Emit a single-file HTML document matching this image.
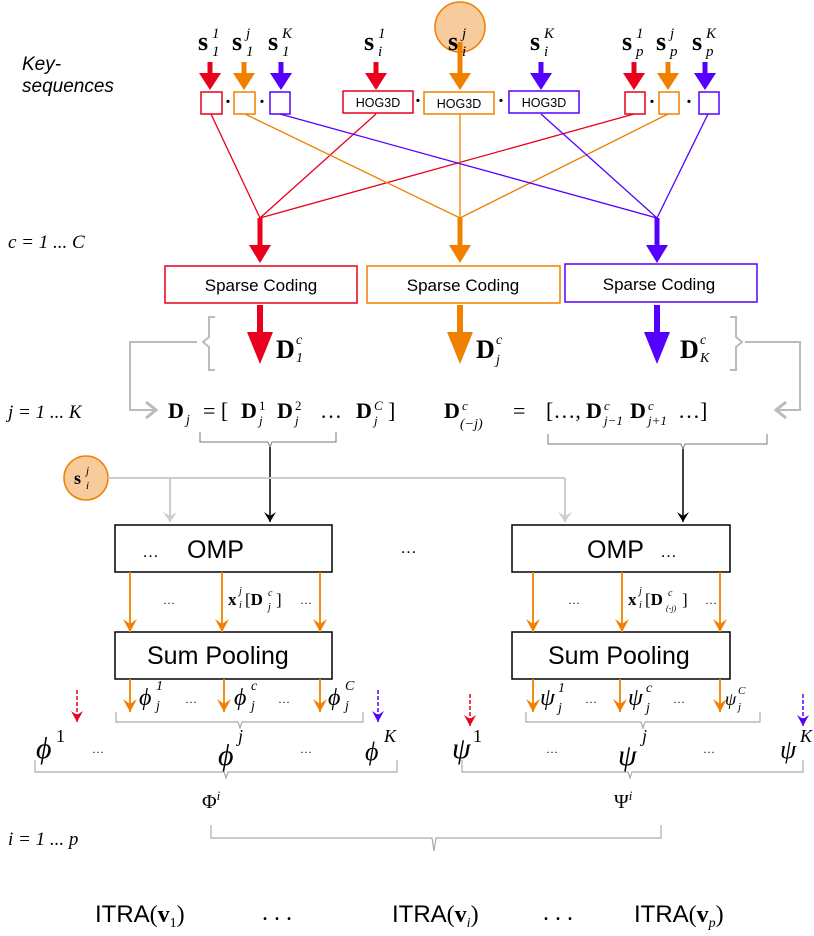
<!DOCTYPE html>
<html><head><meta charset="utf-8"><style>
body{margin:0;background:#fff}
svg{display:block}
text{font-family:"Liberation Serif",serif}
.s{font-family:"Liberation Sans",sans-serif}
</style></head><body>
<svg width="814" height="936" viewBox="0 0 814 936" xmlns="http://www.w3.org/2000/svg">
<defs>
<marker id="ho" markerWidth="14" markerHeight="14" refX="13" refY="7" orient="auto" markerUnits="userSpaceOnUse"><path d="M0,0 L13,7 L0,14 L5,7Z" fill="#f08000"/></marker>
<marker id="hk" markerWidth="12" markerHeight="12" refX="11" refY="6" orient="auto" markerUnits="userSpaceOnUse"><path d="M1,0 L11,6 L1,12 L5,6Z" fill="#000"/></marker>
<marker id="hg" markerWidth="12" markerHeight="14" refX="11" refY="7" orient="auto" markerUnits="userSpaceOnUse"><path d="M1,0 L11,7 L1,14 L5,7Z" fill="#ccc"/></marker>
<marker id="hr" markerWidth="12" markerHeight="12" refX="11" refY="6" orient="auto" markerUnits="userSpaceOnUse"><path d="M0,0 L11,6 L0,12 L4,6Z" fill="#e8001c"/></marker>
<marker id="hb" markerWidth="12" markerHeight="12" refX="11" refY="6" orient="auto" markerUnits="userSpaceOnUse"><path d="M0,0 L11,6 L0,12 L4,6Z" fill="#5500ff"/></marker>
</defs>

<text x="22" y="70" class="s" font-size="19" font-style="italic">Key-</text>
<text x="22" y="92" class="s" font-size="19" font-style="italic">sequences</text>
<text x="8" y="248" font-size="19" font-style="italic">c = 1 ... C</text>
<text x="8" y="418" font-size="19" font-style="italic">j = 1 ... K</text>
<text x="8" y="845" font-size="19" font-style="italic">i = 1 ... p</text>

<circle cx="460" cy="27" r="25" fill="#f8cb9c" stroke="#f08000" stroke-width="1.5"/>

<g font-size="26" font-weight="bold">
<text x="198" y="50">s</text><text x="232" y="50">s</text><text x="268" y="50">s</text>
<text x="364" y="50">s</text><text x="448" y="50">s</text><text x="530" y="50">s</text>
<text x="622" y="50">s</text><text x="656" y="50">s</text><text x="692" y="50">s</text>
</g>
<g font-size="15" font-style="italic">
<text x="212" y="38">1</text><text x="212" y="56">1</text>
<text x="246" y="38">j</text><text x="246" y="56">1</text>
<text x="282" y="38">K</text><text x="282" y="56">1</text>
<text x="378" y="38">1</text><text x="378" y="56">i</text>
<text x="462" y="38">j</text><text x="462" y="56">i</text>
<text x="544" y="38">K</text><text x="544" y="56">i</text>
<text x="636" y="38">1</text><text x="636" y="56">p</text>
<text x="670" y="38">j</text><text x="670" y="56">p</text>
<text x="706" y="38">K</text><text x="706" y="56">p</text>
</g>

<g stroke-width="5">
<line x1="210" y1="62" x2="210" y2="78" stroke="#e8001c"/><path d="M199,73 L210,90 L221,73 Z" fill="#e8001c"/>
<line x1="244" y1="62" x2="244" y2="78" stroke="#f08000"/><path d="M233,73 L244,90 L255,73 Z" fill="#f08000"/>
<line x1="281" y1="62" x2="281" y2="78" stroke="#5500ff"/><path d="M270,73 L281,90 L292,73 Z" fill="#5500ff"/>
<line x1="376" y1="62" x2="376" y2="78" stroke="#e8001c"/><path d="M365,73 L376,90 L387,73 Z" fill="#e8001c"/>
<line x1="460" y1="42" x2="460" y2="78" stroke="#f08000"/><path d="M449,73 L460,90 L471,73 Z" fill="#f08000"/>
<line x1="541" y1="62" x2="541" y2="78" stroke="#5500ff"/><path d="M530,73 L541,90 L552,73 Z" fill="#5500ff"/>
<line x1="634" y1="62" x2="634" y2="78" stroke="#e8001c"/><path d="M623,73 L634,90 L645,73 Z" fill="#e8001c"/>
<line x1="668" y1="62" x2="668" y2="78" stroke="#f08000"/><path d="M657,73 L668,90 L679,73 Z" fill="#f08000"/>
<line x1="705" y1="62" x2="705" y2="78" stroke="#5500ff"/><path d="M694,73 L705,90 L716,73 Z" fill="#5500ff"/>
</g>

<g fill="#fff" stroke-width="1.5">
<rect x="201" y="92" width="21" height="22" stroke="#e8001c"/>
<rect x="234" y="92" width="21" height="22" stroke="#f08000"/>
<rect x="270" y="92" width="20" height="22" stroke="#5500ff"/>
<rect x="343" y="91" width="70" height="22" stroke="#e8001c"/>
<rect x="424" y="92" width="70" height="22" stroke="#f08000"/>
<rect x="509" y="91" width="70" height="22" stroke="#5500ff"/>
<rect x="625" y="92" width="20" height="22" stroke="#e8001c"/>
<rect x="659" y="92" width="20" height="22" stroke="#f08000"/>
<rect x="699" y="92" width="20" height="22" stroke="#5500ff"/>
</g>
<g class="s" font-size="12.5" text-anchor="middle">
<text x="378" y="107" class="s">HOG3D</text><text x="459" y="108" class="s">HOG3D</text><text x="544" y="107" class="s">HOG3D</text>
</g>
<g font-size="20" font-weight="bold" text-anchor="middle">
<text x="228" y="108">·</text><text x="262" y="108">·</text><text x="418" y="107">·</text><text x="501" y="107">·</text><text x="652" y="108">·</text><text x="689" y="108">·</text>
</g>

<g stroke-width="1.3" fill="none">
<path d="M211,114 L260,218 M376,114 L260,218 M634,114 L260,218" stroke="#e8001c"/>
<path d="M245,114 L460,218 M460,114 L460,218 M668,114 L460,218" stroke="#f08000"/>
<path d="M280,114 L657,218 M541,114 L657,218 M708,114 L657,218" stroke="#5500ff"/>
</g>
<g stroke-width="5">
<line x1="260" y1="218" x2="260" y2="250" stroke="#e8001c"/><path d="M249,245 L260,263 L271,245 Z" fill="#e8001c"/>
<line x1="460" y1="218" x2="460" y2="250" stroke="#f08000"/><path d="M449,245 L460,263 L471,245 Z" fill="#f08000"/>
<line x1="657" y1="218" x2="657" y2="250" stroke="#5500ff"/><path d="M646,245 L657,263 L668,245 Z" fill="#5500ff"/>
</g>

<g fill="#fff" stroke-width="1.5">
<rect x="165" y="266" width="192" height="37" stroke="#e8001c"/>
<rect x="367" y="266" width="193" height="37" stroke="#f08000"/>
<rect x="565" y="264" width="192" height="38" stroke="#5500ff"/>
</g>
<g class="s" font-size="17" text-anchor="middle">
<text x="261" y="291" class="s">Sparse Coding</text><text x="463" y="291" class="s">Sparse Coding</text><text x="659" y="290" class="s">Sparse Coding</text>
</g>
<g stroke-width="6">
<line x1="260" y1="305" x2="260" y2="340" stroke="#e8001c"/><path d="M247,332 L260,364 L273,332 Z" fill="#e8001c"/>
<line x1="460" y1="305" x2="460" y2="340" stroke="#f08000"/><path d="M447,332 L460,364 L473,332 Z" fill="#f08000"/>
<line x1="657" y1="305" x2="657" y2="340" stroke="#5500ff"/><path d="M644,332 L657,364 L670,332 Z" fill="#5500ff"/>
</g>
<g font-size="26" font-weight="bold"><text x="276" y="358">D</text><text x="476" y="358">D</text><text x="680" y="358">D</text></g>
<g font-size="14" font-style="italic"><text x="296" y="344">c</text><text x="296" y="362">1</text><text x="496" y="344">c</text><text x="496" y="364">j</text><text x="700" y="344">c</text><text x="700" y="362">K</text></g>

<g stroke="#bbb" stroke-width="2" fill="none">
<path d="M215,317 L209,317 L209,337 L203,342 L209,347 L209,370 L215,370"/>
<path d="M730,317 L736,317 L736,337 L742,342 L736,347 L736,370 L730,370"/>
<path d="M197,342 L130,342 L130,410 L154,410"/>
<path d="M745,342 L800,342 L800,410 L778,410"/>
<path d="M146,402 L156,410 L146,418" stroke-width="3"/>
<path d="M786,402 L776,410 L786,418" stroke-width="3"/>
</g>

<g font-size="22">
<text x="168" y="418" font-weight="bold">D</text><text x="186" y="424" font-size="14" font-style="italic">j</text>
<text x="203" y="418">= [</text>
<text x="241" y="418" font-weight="bold">D</text><text x="259" y="410" font-size="13">1</text><text x="259" y="425" font-size="13" font-style="italic">j</text>
<text x="277" y="418" font-weight="bold">D</text><text x="295" y="410" font-size="13">2</text><text x="295" y="425" font-size="13" font-style="italic">j</text>
<text x="320" y="418">…</text>
<text x="356" y="418" font-weight="bold">D</text><text x="374" y="410" font-size="13" font-style="italic">C</text><text x="374" y="425" font-size="13" font-style="italic">j</text>
<text x="388" y="418">]</text>
<text x="444" y="418" font-weight="bold">D</text><text x="462" y="410" font-size="13" font-style="italic">c</text><text x="460" y="428" font-size="14" font-style="italic">(−j)</text>
<text x="513" y="418">=</text>
<text x="546" y="418">[…,</text>
<text x="586" y="418" font-weight="bold">D</text><text x="604" y="410" font-size="13" font-style="italic">c</text><text x="604" y="425" font-size="13" font-style="italic">j−1</text>
<text x="630" y="418" font-weight="bold">D</text><text x="648" y="410" font-size="13" font-style="italic">c</text><text x="648" y="425" font-size="13" font-style="italic">j+1</text>
<text x="678" y="418">…]</text>
</g>
<g stroke="#777" stroke-width="1" fill="none">
<path d="M200,432 L200,442 L268,442 L270,447 L272,442 L336,442 L336,432"/>
<path d="M548,434 L548,444 L681,444 L683,449 L685,444 L767,444 L767,434"/>
</g>
<line x1="270" y1="447" x2="270" y2="522" stroke="#000" stroke-width="1.5" marker-end="url(#hk)"/>
<line x1="683" y1="449" x2="683" y2="522" stroke="#000" stroke-width="1.5" marker-end="url(#hk)"/>

<circle cx="86" cy="478" r="22" fill="#f8cb9c" stroke="#f08000" stroke-width="1.5"/>
<text x="74" y="484" font-size="18" font-weight="bold">s</text><text x="86" y="474" font-size="11" font-style="italic">j</text><text x="86" y="489" font-size="11" font-style="italic">i</text>
<g stroke="#ccc" stroke-width="2" fill="none">
<path d="M108,478 L565,478"/>
<line x1="170" y1="478" x2="170" y2="522" marker-end="url(#hg)"/>
<line x1="565" y1="478" x2="565" y2="522" marker-end="url(#hg)"/>
</g>

<g fill="#fff" stroke="#000" stroke-width="1.5">
<rect x="115" y="525" width="217" height="47"/><rect x="512" y="525" width="218" height="47"/>
<rect x="115" y="632" width="217" height="47"/><rect x="512" y="632" width="218" height="47"/>
</g>
<g class="s" font-size="25">
<text x="142" y="557" class="s" font-size="17">…</text><text x="187" y="558" class="s">OMP</text>
<text x="587" y="558" class="s">OMP</text><text x="660" y="557" class="s" font-size="17">…</text>
<text x="147" y="664" class="s">Sum Pooling</text><text x="548" y="664" class="s">Sum Pooling</text>
<text x="400" y="553" class="s" font-size="17">…</text>
</g>
<g stroke="#f08000" stroke-width="1.8">
<line x1="130" y1="572" x2="130" y2="632" marker-end="url(#ho)"/>
<line x1="222" y1="572" x2="222" y2="632" marker-end="url(#ho)"/>
<line x1="320" y1="572" x2="320" y2="632" marker-end="url(#ho)"/>
<line x1="533" y1="572" x2="533" y2="632" marker-end="url(#ho)"/>
<line x1="622" y1="572" x2="622" y2="632" marker-end="url(#ho)"/>
<line x1="720" y1="572" x2="720" y2="632" marker-end="url(#ho)"/>
<line x1="130" y1="679" x2="130" y2="712" marker-end="url(#ho)"/>
<line x1="224" y1="679" x2="224" y2="712" marker-end="url(#ho)"/>
<line x1="320" y1="679" x2="320" y2="712" marker-end="url(#ho)"/>
<line x1="533" y1="679" x2="533" y2="712" marker-end="url(#ho)"/>
<line x1="620" y1="679" x2="620" y2="712" marker-end="url(#ho)"/>
<line x1="720" y1="679" x2="720" y2="712" marker-end="url(#ho)"/>
</g>
<g font-size="12"><text x="163" y="604">…</text><text x="300" y="604">…</text><text x="568" y="604">…</text><text x="705" y="604">…</text></g>
<text x="228" y="605" font-size="17" font-weight="bold">x</text><text x="239" y="594" font-size="10" font-style="italic">j</text><text x="239" y="608" font-size="10" font-style="italic">i</text>
<text x="245" y="605" font-size="17">[<tspan font-weight="bold">D</tspan></text><text x="268" y="596" font-size="10" font-style="italic">c</text><text x="268" y="610" font-size="10" font-style="italic">j</text><text x="276" y="605" font-size="17">]</text>
<text x="628" y="605" font-size="17" font-weight="bold">x</text><text x="639" y="594" font-size="10" font-style="italic">j</text><text x="639" y="608" font-size="10" font-style="italic">i</text>
<text x="645" y="605" font-size="17">[<tspan font-weight="bold">D</tspan></text><text x="668" y="596" font-size="10" font-style="italic">c</text><text x="666" y="611" font-size="8" font-style="italic">(-j)</text><text x="682" y="605" font-size="17">]</text>

<g font-size="24" font-style="italic">
<text x="139" y="705">ϕ</text><text x="234" y="705">ϕ</text><text x="328" y="705">ϕ</text>
<text x="540" y="705">ψ</text><text x="628" y="705">ψ</text><text x="725" y="705" font-size="18">ψ</text>
</g>
<g font-size="14" font-style="italic">
<text x="156" y="690">1</text><text x="156" y="710">j</text>
<text x="251" y="690">c</text><text x="251" y="710">j</text>
<text x="345" y="690">C</text><text x="345" y="710">j</text>
<text x="558" y="692">1</text><text x="558" y="712">j</text>
<text x="646" y="692">c</text><text x="646" y="712">j</text>
<text x="738" y="694" font-size="11">C</text><text x="738" y="710" font-size="11">j</text>
</g>
<g font-size="12"><text x="185" y="703">…</text><text x="278" y="703">…</text><text x="585" y="703">…</text><text x="673" y="703">…</text></g>

<g stroke-width="1.5" stroke-dasharray="4,2">
<line x1="77" y1="690" x2="77" y2="722" stroke="#e8001c" marker-end="url(#hr)"/>
<line x1="378" y1="690" x2="378" y2="722" stroke="#5500ff" marker-end="url(#hb)"/>
<line x1="470" y1="694" x2="470" y2="726" stroke="#e8001c" marker-end="url(#hr)"/>
<line x1="803" y1="694" x2="803" y2="726" stroke="#5500ff" marker-end="url(#hb)"/>
</g>

<g stroke="#aaa" stroke-width="1.2" fill="none">
<path d="M116,712 L116,722 L238,722 L240,728 L242,722 L363,722 L363,712"/>
<path d="M526,712 L526,722 L641,722 L643,728 L645,722 L760,722 L760,712"/>
<path d="M35,760 L35,772 L224,772 L226,778 L228,772 L397,772 L397,760"/>
<path d="M462,760 L462,772 L628,772 L630,778 L632,772 L803,772 L803,760"/>
<path d="M211,825 L211,838 L432,838 L434,851 L436,838 L661,838 L661,825"/>
</g>

<g font-size="30" font-style="italic">
<text x="36" y="758">ϕ</text><text x="218" y="765">ϕ</text><text x="365" y="760" font-size="26">ϕ</text>
<text x="452" y="758">ψ</text><text x="618" y="765">ψ</text><text x="780" y="758" font-size="26">ψ</text>
</g>
<g font-size="18"><text x="56" y="742">1</text><text x="238" y="742" font-style="italic">j</text><text x="384" y="742" font-style="italic">K</text>
<text x="473" y="742">1</text><text x="642" y="742" font-style="italic">j</text><text x="800" y="742" font-style="italic">K</text></g>
<g font-size="12"><text x="92" y="753">…</text><text x="300" y="753">…</text><text x="546" y="753">…</text><text x="703" y="753">…</text></g>

<text x="202" y="808" font-size="20">Φ<tspan font-size="13" font-style="italic" dy="-8">i</tspan></text>
<text x="614" y="808" font-size="20">Ψ<tspan font-size="13" font-style="italic" dy="-8">i</tspan></text>

<g font-size="24">
<text x="95" y="922" class="s">ITRA<tspan font-family="Liberation Serif">(<tspan font-weight="bold">v</tspan><tspan font-size="14" dy="5">1</tspan><tspan dy="-5">)</tspan></tspan></text>
<text x="262" y="920">. . .</text>
<text x="392" y="922" class="s">ITRA<tspan font-family="Liberation Serif">(<tspan font-weight="bold">v</tspan><tspan font-size="14" dy="5" font-style="italic">i</tspan><tspan dy="-5">)</tspan></tspan></text>
<text x="543" y="920">. . .</text>
<text x="634" y="922" class="s">ITRA<tspan font-family="Liberation Serif">(<tspan font-weight="bold">v</tspan><tspan font-size="14" dy="5" font-style="italic">p</tspan><tspan dy="-5">)</tspan></tspan></text>
</g>
</svg>
</body></html>
